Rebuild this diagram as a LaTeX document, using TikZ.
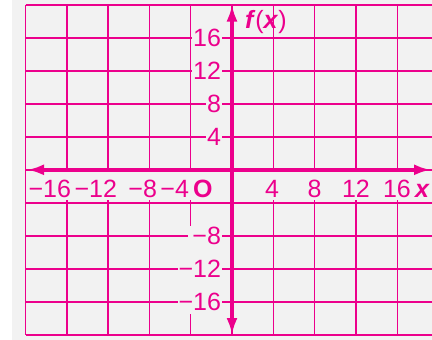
\documentclass[tikz,border=0pt]{standalone}
\usepackage{fontspec}
\setmainfont{Liberation Sans}
\usetikzlibrary{arrows.meta}
\definecolor{mag}{HTML}{EC008C}
\definecolor{bg}{HTML}{F2F2F2}
\begin{document}
\begin{tikzpicture}[x=1pt,y=-1pt,
  gridline/.style={draw=mag,line width=1.4pt},
  axisline/.style={draw=mag,line width=3.6pt,{Latex[length=17pt,width=11pt]}-{Latex[length=17pt,width=11pt]}},
  lab/.style={text=mag,font=\fontsize{25}{25}\selectfont,inner sep=0.8pt},
  ylab/.style={lab,fill=bg,anchor=base east},
  xlab/.style={lab,anchor=base},
]
\useasboundingbox (0,0) rectangle (432,340);
\fill[white] (0,0) rectangle (432,340);
\fill[bg] (12,0) rectangle (432,340);
% grid
\foreach \i in {0,...,9} \draw[gridline] ({25.5+41.3*\i},4.8) -- ({25.5+41.3*\i},334.8);
\foreach \j in {0,...,10} \draw[gridline] (25.5,{4.8+33*\j}) -- (432,{4.8+33*\j});
% cleared areas behind labels
\fill[bg] (26.3,171) rectangle (432,199.5);
\fill[bg] (188,226) rectangle (194,314);
% y labels
\node[ylab] (y16) at (222,46.8) {16};
\node[ylab] (y12) at (222,79.8) {12};
\node[ylab] (y8) at (222,112.8) {8};
\node[ylab] (y4) at (222,145.8) {4};
\node[ylab] (ym8) at (222,244.8) {−8};
\node[ylab] (ym12) at (222,277.8) {−12};
\node[ylab] (ym16) at (222,310.8) {−16};
% x labels
\node[lab,anchor=base east] (xm16) at (72,197) {−16};
\node[lab,anchor=base east] (xm12) at (118,197) {−12};
\node[lab,anchor=base east] (xm8) at (158,197) {−8};
\node[lab,anchor=base east] (xm4) at (190,197) {−4};
\node[lab,anchor=base east] (orig) at (213.5,197) {\textbf{O}};
\node[xlab] (x4) at (272,197) {4};
\node[xlab] (x8) at (314.5,197) {8};
\node[xlab] (x12) at (356,197) {12};
\node[xlab] (x16) at (397,197) {16};
\node[lab,anchor=base west] (xname) at (414,197) {\textbf{\textit{x}}};
\node[lab,anchor=base west] (fname) at (244,28) {\textbf{\textit{f}}(\textbf{\textit{x}})};
% axes
\coordinate (xl) at (27,169.8);
\coordinate (xr) at (431,169.8);
\coordinate (yt) at (232,4.5);
\coordinate (yb) at (232,335);
\draw[axisline] (xl) -- (xr);
\draw[axisline] (yt) -- (yb);
\end{tikzpicture}
\end{document}
